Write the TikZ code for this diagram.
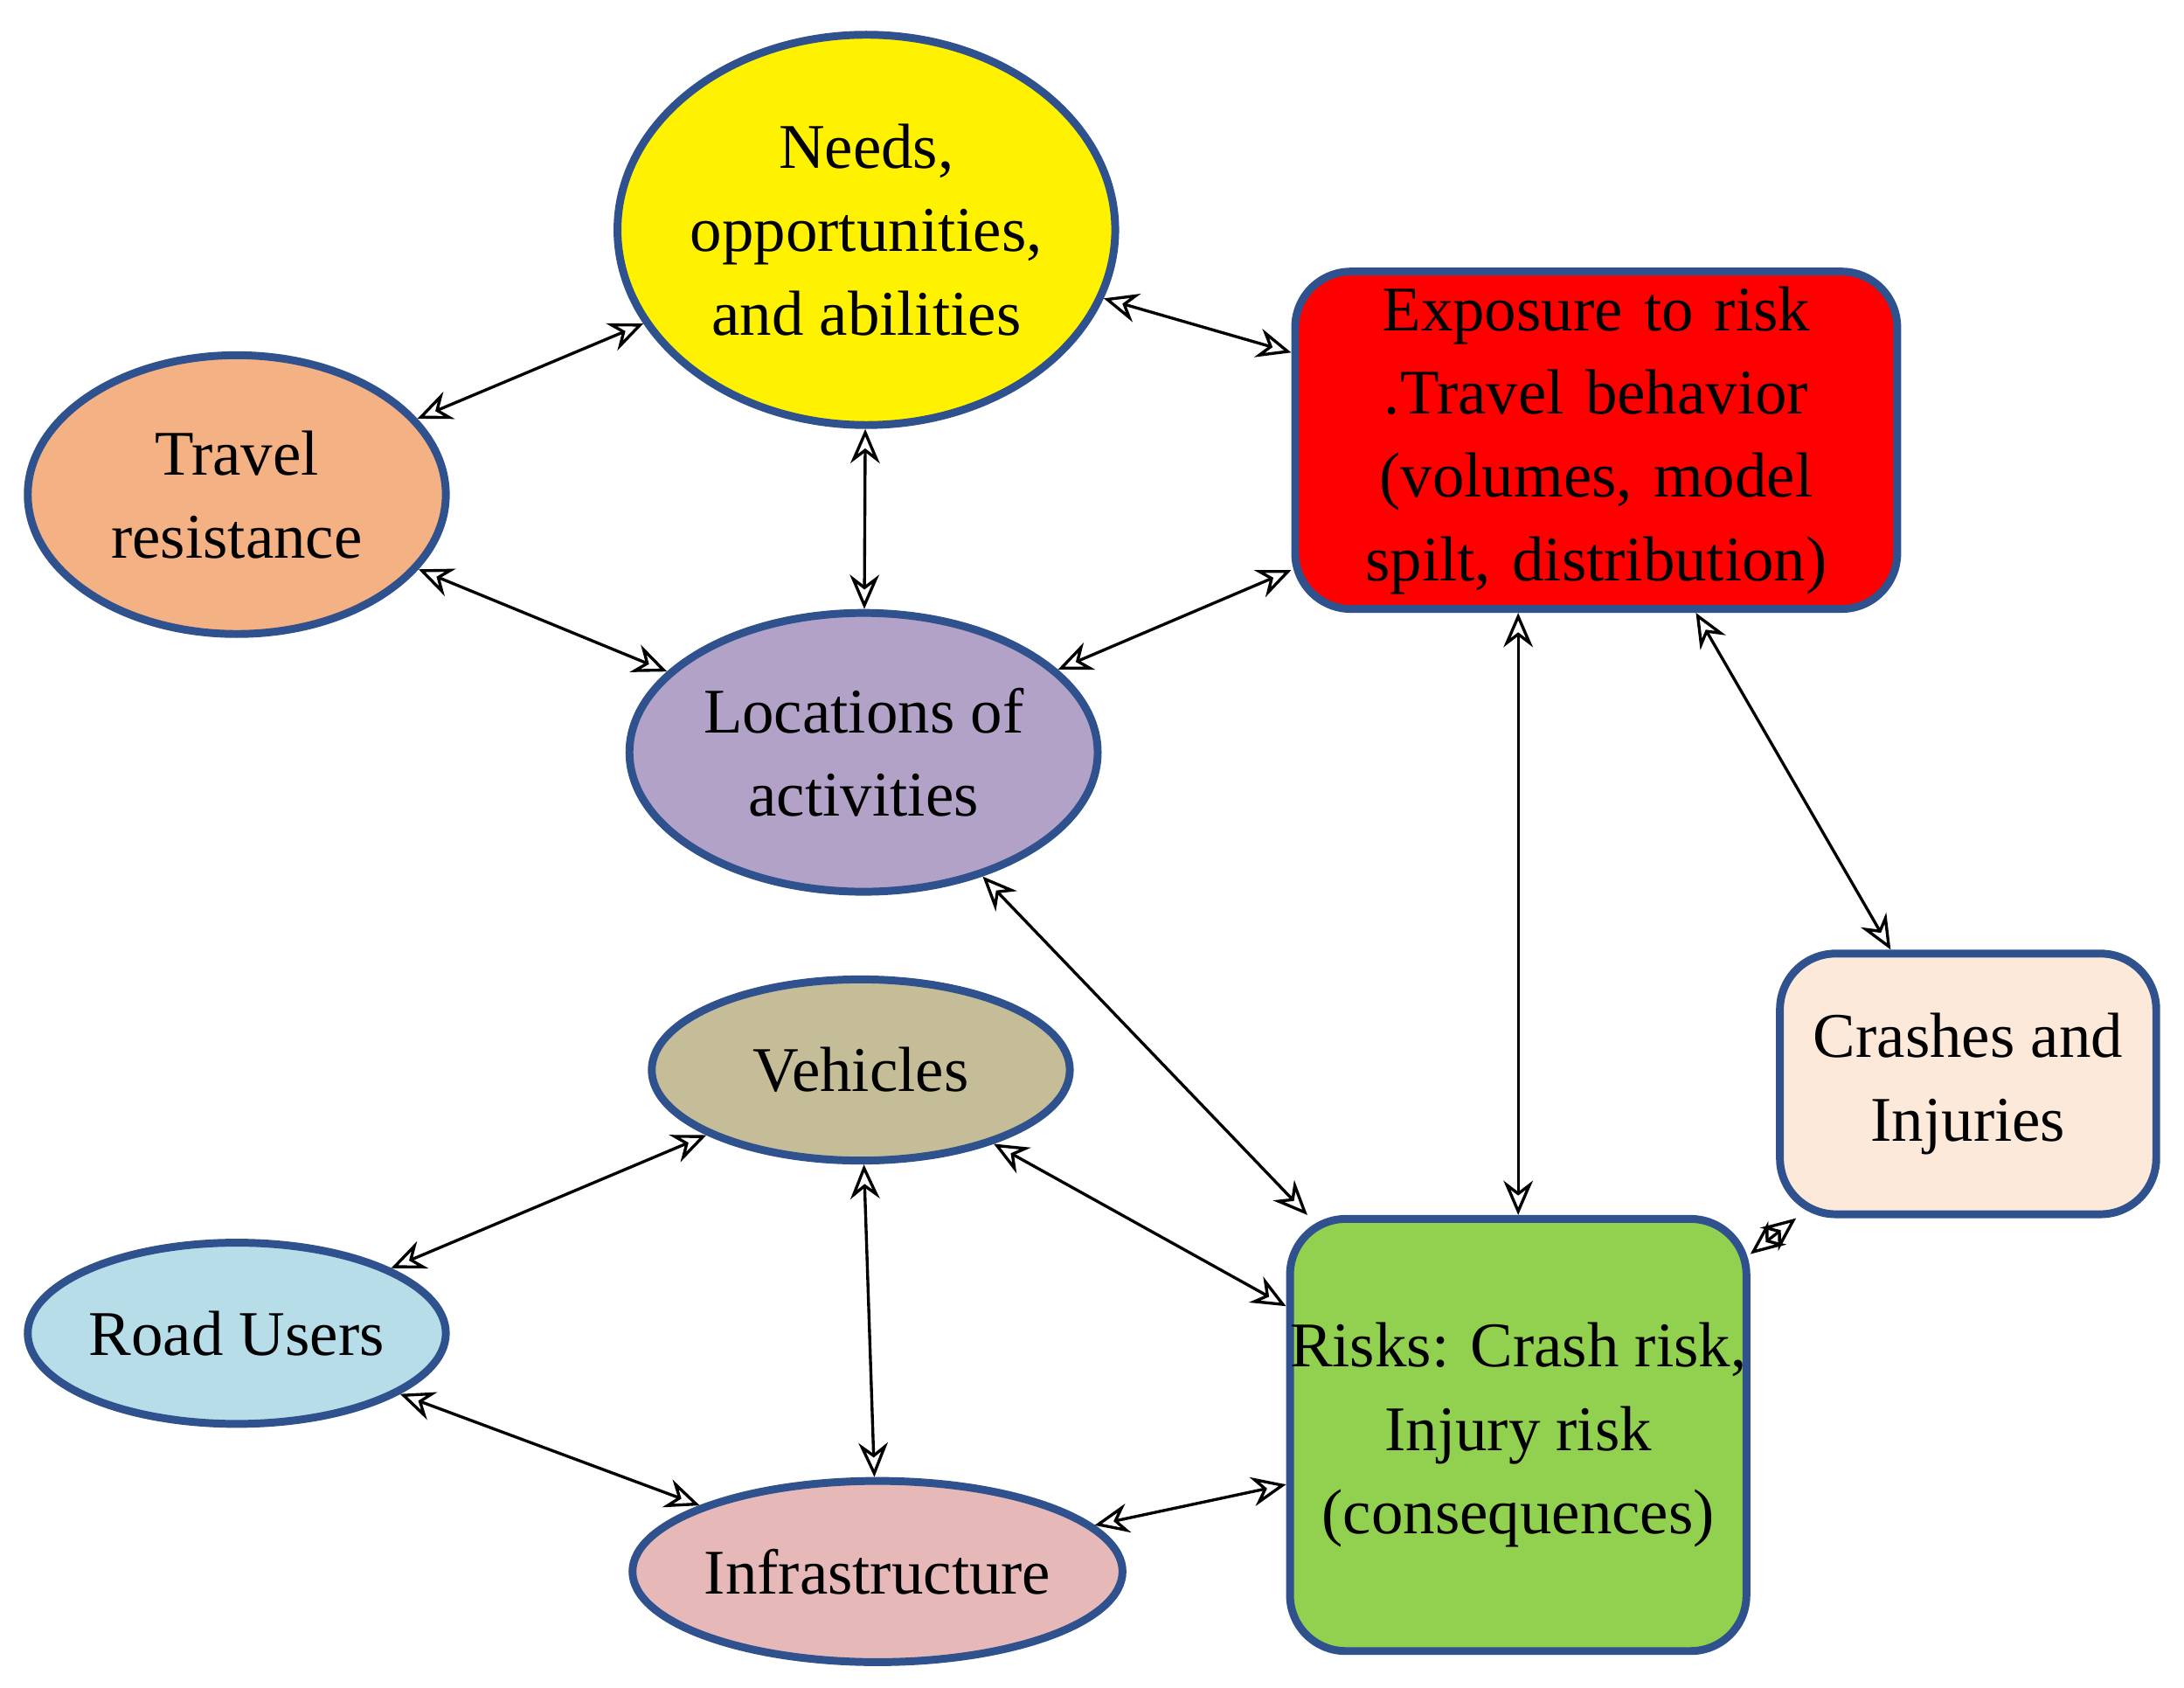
\documentclass[tikz,border=0pt]{standalone}
\usepackage{fontspec}
\setmainfont{Liberation Serif}
\usetikzlibrary{shapes.geometric,arrows.meta}
\definecolor{bd}{HTML}{2F528F}
\begin{document}
\begin{tikzpicture}[x=0.01cm,y=-0.01cm,
  base/.style={draw=bd,line width=1.6pt,align=center,inner sep=0pt,font=\fontsize{13}{17}\selectfont},
  el/.style={base,ellipse},
  bx/.style={base,rectangle,rounded corners=0.4cm},
  ar/.style={{Stealth[length=7pt,width=6pt,open]}-{Stealth[length=7pt,width=6pt,open]},line width=0.6pt}]
\useasboundingbox (0,0) rectangle (1568,1211);
\node[el,fill=yellow,minimum width=3.36cm,minimum height=2.8cm] (nd) at (622,165) {Needs,\\opportunities,\\and abilities};
\node[el,fill={rgb,255:red,244;green,177;blue,131},minimum width=3.0cm,minimum height=2.0cm] (tr) at (170,355) {Travel\\resistance};
\node[bx,fill=red,minimum width=4.32cm,minimum height=2.42cm,text width=4.1cm] (ex) at (1146,316) {Exposure to risk .Travel behavior (volumes, model spilt, distribution)};
\node[el,fill={rgb,255:red,179;green,162;blue,199},minimum width=3.36cm,minimum height=2.0cm] (lo) at (620,540) {Locations of\\activities};
\node[el,fill={rgb,255:red,196;green,189;blue,151},minimum width=3.0cm,minimum height=1.3cm] (ve) at (618,768) {Vehicles};
\node[el,fill={rgb,255:red,183;green,222;blue,232},minimum width=3.0cm,minimum height=1.3cm] (ru) at (170,957) {Road Users};
\node[el,fill={rgb,255:red,230;green,185;blue,184},minimum width=3.2cm,minimum height=1.3cm] (in) at (630,1128) {Infrastructure};
\node[bx,fill={rgb,255:red,146;green,208;blue,80},minimum width=3.2cm,minimum height=3.1cm] (rk) at (1090,1030) {Risks: Crash risk,\\Injury risk\\(consequences)};
\node[bx,fill={rgb,255:red,253;green,233;blue,217},minimum width=2.7cm,minimum height=1.87cm] (cr) at (1413,778) {Crashes and\\Injuries};
\draw[ar] (tr) -- (nd);
\draw[ar] (nd) -- (ex);
\draw[ar] (nd) -- (lo);
\draw[ar] (tr) -- (lo);
\draw[ar] (ex) -- (lo);
\draw[ar] (ex.south -| rk.north) -- (rk.north);
\draw[ar] (ex) -- (cr);
\draw[ar] (lo) -- (rk);
\draw[ar] (ve) -- (ru);
\draw[ar] (ve) -- (rk);
\draw[ar] (ve) -- (in);
\draw[ar] (ru) -- (in);
\draw[ar] (in) -- (rk);
\draw[ar] (rk) -- (cr);
\end{tikzpicture}
\end{document}
